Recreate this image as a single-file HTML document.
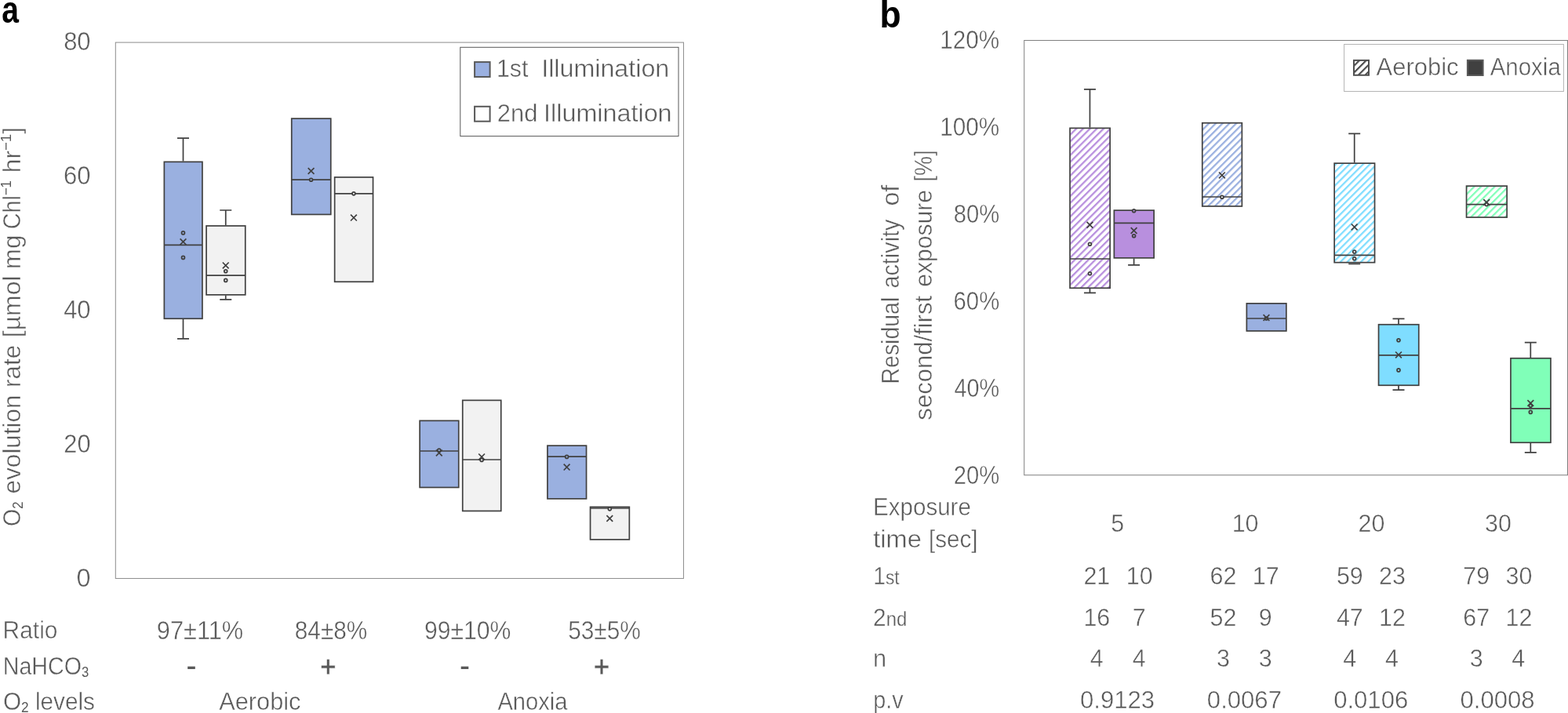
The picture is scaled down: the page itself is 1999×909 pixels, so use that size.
<!DOCTYPE html>
<html lang="en"><head><meta charset="utf-8"><title>Figure</title>
<style>
html,body{margin:0;padding:0;background:#fff}
body{width:1999px;height:909px;overflow:hidden}
svg{display:block}
text{font-family:'Liberation Sans',Arial,sans-serif;fill:#595959;white-space:pre}
</style></head><body>

<svg width="1999" height="909" viewBox="0 0 1999 909">
<defs><pattern id="hp" patternUnits="userSpaceOnUse" width="6.152" height="12" patternTransform="translate(1371.20 163.40) rotate(45)"><rect width="6.152" height="12" fill="#fff"/><rect width="2.25" height="12" fill="#B88FDE"/></pattern><pattern id="hb" patternUnits="userSpaceOnUse" width="6.152" height="12" patternTransform="translate(1540.40 156.60) rotate(45)"><rect width="6.152" height="12" fill="#fff"/><rect width="2.25" height="12" fill="#9AB0E0"/></pattern><pattern id="hc" patternUnits="userSpaceOnUse" width="6.152" height="12" patternTransform="translate(1702.40 208.40) rotate(45)"><rect width="6.152" height="12" fill="#fff"/><rect width="2.25" height="12" fill="#7FDDFF"/></pattern><pattern id="hg" patternUnits="userSpaceOnUse" width="6.152" height="12" patternTransform="translate(1878.40 237.40) rotate(45)"><rect width="6.152" height="12" fill="#fff"/><rect width="2.25" height="12" fill="#80FFB8"/></pattern><pattern id="hk" patternUnits="userSpaceOnUse" width="6.152" height="12" patternTransform="translate(1733.46 83.86) rotate(45)"><rect width="6.152" height="12" fill="#fff"/><rect width="2.10" height="12" fill="#484848"/></pattern></defs>
<rect x="147.30" y="54.10" width="724.15" height="683.35" fill="none" stroke="#8c8c8c" stroke-width="1.00"/>
<rect x="1305.70" y="51.50" width="692.80" height="554.20" fill="none" stroke="#808080" stroke-width="1.00"/>
<rect x="586.80" y="60.30" width="278.20" height="113.30" fill="#fff" stroke="#595959" stroke-width="1"/><rect x="605.10" y="79.10" width="19.50" height="18.90" fill="#9AB0E0" stroke="#595959" stroke-width="2"/><rect x="605.10" y="135.80" width="19.50" height="18.90" fill="#fff" stroke="#595959" stroke-width="2"/>
<rect x="1713.60" y="56.50" width="279.80" height="60.00" fill="#fff" stroke="#b4b4b4" stroke-width="1"/><rect x="1726.00" y="76.90" width="19.00" height="18.90" fill="url(#hk)" stroke="#505050" stroke-width="2"/><rect x="1870.90" y="76.80" width="19.70" height="19.20" fill="#404040" stroke="#595959" stroke-width="2"/>
<g stroke="#404040" stroke-width="1.70" fill="none"><path d="M233.50 205.60V176.20M226.00 176.20H241.00M233.50 407.00V431.90M226.00 431.90H241.00"/><rect x="209.35" y="206.35" width="48.60" height="199.90" fill="#9AB0E0"/><path d="M209.35 312.40H257.95"/><circle cx="233.50" cy="296.90" r="1.95" fill="#9AB0E0" stroke-width="1.75"/><circle cx="233.50" cy="328.40" r="1.95" fill="#9AB0E0" stroke-width="1.75"/><path d="M229.60 304.30L237.40 312.10M229.60 312.10L237.40 304.30"/></g>
<g stroke="#404040" stroke-width="1.70" fill="none"><path d="M287.75 287.20V268.00M280.25 268.00H295.25M287.75 376.60V381.90M280.25 381.90H295.25"/><rect x="263.05" y="287.95" width="49.70" height="87.90" fill="#F2F2F2"/><path d="M263.05 351.20H312.75"/><circle cx="287.75" cy="345.80" r="1.95" fill="#F2F2F2" stroke-width="1.75"/><circle cx="287.75" cy="357.40" r="1.95" fill="#F2F2F2" stroke-width="1.75"/><path d="M283.85 334.50L291.65 342.30M283.85 342.30L291.65 334.50"/></g>
<g stroke="#404040" stroke-width="1.70" fill="none"><rect x="371.75" y="151.15" width="50.00" height="122.30" fill="#9AB0E0"/><path d="M371.75 229.20H421.75"/><circle cx="396.60" cy="229.20" r="1.95" fill="#9AB0E0" stroke-width="1.75"/><path d="M392.70 214.10L400.50 221.90M392.70 221.90L400.50 214.10"/></g>
<g stroke="#404040" stroke-width="1.70" fill="none"><rect x="426.65" y="225.95" width="48.90" height="133.30" fill="#F2F2F2"/><path d="M426.65 246.80H475.55"/><circle cx="450.95" cy="246.80" r="1.95" fill="#F2F2F2" stroke-width="1.75"/><path d="M447.05 273.70L454.85 281.50M447.05 281.50L454.85 273.70"/></g>
<g stroke="#404040" stroke-width="1.70" fill="none"><rect x="535.15" y="536.35" width="49.60" height="85.10" fill="#9AB0E0"/><path d="M535.15 575.00H584.75"/><circle cx="559.80" cy="574.00" r="1.95" fill="#9AB0E0" stroke-width="1.75"/><path d="M555.90 573.50L563.70 581.30M555.90 581.30L563.70 573.50"/></g>
<g stroke="#404040" stroke-width="1.70" fill="none"><rect x="589.75" y="510.35" width="49.00" height="141.10" fill="#F2F2F2"/><path d="M589.75 586.00H638.75"/><circle cx="614.10" cy="586.40" r="1.95" fill="#F2F2F2" stroke-width="1.75"/><path d="M610.20 578.50L618.00 586.30M610.20 586.30L618.00 578.50"/></g>
<g stroke="#404040" stroke-width="1.70" fill="none"><rect x="697.95" y="568.15" width="49.60" height="67.70" fill="#9AB0E0"/><path d="M697.95 582.20H747.55"/><circle cx="722.60" cy="582.40" r="1.95" fill="#9AB0E0" stroke-width="1.75"/><path d="M718.70 591.70L726.50 599.50M718.70 599.50L726.50 591.70"/></g>
<g stroke="#404040" stroke-width="1.70" fill="none"><rect x="752.55" y="646.35" width="49.80" height="41.50" fill="#F2F2F2"/><path d="M752.55 648.00H802.35"/><circle cx="777.30" cy="648.80" r="1.95" fill="#F2F2F2" stroke-width="1.75"/><path d="M773.40 657.10L781.20 664.90M773.40 664.90L781.20 657.10"/></g>
<g stroke="#404040" stroke-width="1.70" fill="none"><path d="M1389.45 162.60V113.90M1381.95 113.90H1396.95M1389.45 368.00V373.30M1381.95 373.30H1396.95"/><rect x="1364.05" y="163.35" width="51.10" height="203.90" fill="url(#hp)"/><path d="M1364.05 330.00H1415.15"/><circle cx="1389.45" cy="311.20" r="1.95" fill="#fff" stroke-width="1.75"/><circle cx="1389.45" cy="348.80" r="1.95" fill="#fff" stroke-width="1.75"/><path d="M1385.55 282.90L1393.35 290.70M1385.55 290.70L1393.35 282.90"/></g>
<g stroke="#404040" stroke-width="1.70" fill="none"><path d="M1445.60 329.60V337.90M1438.10 337.90H1453.10"/><rect x="1420.35" y="268.15" width="50.80" height="60.70" fill="#B88FDE"/><path d="M1420.35 284.40H1471.15"/><circle cx="1445.60" cy="268.80" r="1.95" fill="#B88FDE" stroke-width="1.75"/><circle cx="1445.60" cy="300.80" r="1.95" fill="#B88FDE" stroke-width="1.75"/><path d="M1441.70 290.10L1449.50 297.90M1441.70 297.90L1449.50 290.10"/></g>
<g stroke="#404040" stroke-width="1.70" fill="none"><rect x="1532.75" y="156.75" width="50.60" height="106.20" fill="url(#hb)"/><path d="M1532.75 251.00H1583.35"/><circle cx="1557.90" cy="251.20" r="1.95" fill="#fff" stroke-width="1.75"/><path d="M1554.00 219.50L1561.80 227.30M1554.00 227.30L1561.80 219.50"/></g>
<g stroke="#404040" stroke-width="1.70" fill="none"><rect x="1589.35" y="386.85" width="50.50" height="35.10" fill="#9AB0E0"/><path d="M1589.35 406.00H1639.85"/><circle cx="1614.45" cy="406.00" r="1.95" fill="#9AB0E0" stroke-width="1.75"/><path d="M1610.55 401.20L1618.35 409.00M1610.55 409.00L1618.35 401.20"/></g>
<g stroke="#404040" stroke-width="1.70" fill="none"><path d="M1726.70 207.40V170.40M1719.20 170.40H1734.20M1726.70 335.40V336.30M1719.20 336.30H1734.20"/><rect x="1701.15" y="208.15" width="51.40" height="126.50" fill="url(#hc)"/><path d="M1701.15 325.40H1752.55"/><circle cx="1726.70" cy="321.00" r="1.95" fill="#fff" stroke-width="1.75"/><circle cx="1726.70" cy="329.70" r="1.95" fill="#fff" stroke-width="1.75"/><path d="M1722.80 285.50L1730.60 293.30M1722.80 293.30L1730.60 285.50"/></g>
<g stroke="#404040" stroke-width="1.70" fill="none"><path d="M1783.00 413.00V406.40M1775.50 406.40H1790.50M1783.00 492.00V497.10M1775.50 497.10H1790.50"/><rect x="1757.55" y="413.75" width="51.20" height="77.50" fill="#7FDDFF"/><path d="M1757.55 452.90H1808.75"/><circle cx="1783.00" cy="433.80" r="1.95" fill="#7FDDFF" stroke-width="1.75"/><circle cx="1783.00" cy="471.90" r="1.95" fill="#7FDDFF" stroke-width="1.75"/><path d="M1779.10 448.50L1786.90 456.30M1779.10 456.30L1786.90 448.50"/></g>
<g stroke="#404040" stroke-width="1.70" fill="none"><rect x="1869.55" y="237.15" width="51.60" height="39.90" fill="url(#hg)"/><path d="M1869.55 260.70H1921.15"/><circle cx="1895.20" cy="260.60" r="1.95" fill="#fff" stroke-width="1.75"/><path d="M1891.30 254.10L1899.10 261.90M1891.30 261.90L1899.10 254.10"/></g>
<g stroke="#404040" stroke-width="1.70" fill="none"><path d="M1951.30 456.00V436.60M1943.80 436.60H1958.80M1951.30 565.00V576.90M1943.80 576.90H1958.80"/><rect x="1925.95" y="456.75" width="51.00" height="107.50" fill="#80FFB8"/><path d="M1925.95 520.80H1976.95"/><circle cx="1951.30" cy="517.20" r="1.95" fill="#80FFB8" stroke-width="1.75"/><circle cx="1951.30" cy="525.40" r="1.95" fill="#80FFB8" stroke-width="1.75"/><path d="M1947.40 510.10L1955.20 517.90M1947.40 517.90L1955.20 510.10"/></g>
<text transform="translate(2.21 29.20) scale(0.8142 1.0000)" font-size="48.00" font-weight="700" style="fill:#000">a</text>
<text transform="translate(81.14 64.30) scale(0.9304 1.0000)" font-size="33.30" stroke="#fff" stroke-width="0.45">80</text>
<text transform="translate(81.00 235.10) scale(0.9344 1.0000)" font-size="33.30" stroke="#fff" stroke-width="0.45">60</text>
<text transform="translate(81.13 406.00) scale(0.9306 1.0000)" font-size="33.30" stroke="#fff" stroke-width="0.45">40</text>
<text transform="translate(81.37 576.90) scale(0.9240 1.0000)" font-size="33.30" stroke="#fff" stroke-width="0.45">20</text>
<text transform="translate(97.48 747.80) scale(0.9750 1.0000)" font-size="33.30" stroke="#fff" stroke-width="0.45">0</text>
<text transform="translate(26.00 670.93) rotate(-90) scale(0.9098 1.0000)" font-size="31.40" stroke="#fff" stroke-width="0.45">O<tspan font-size="0.58em" dy="0.19em" stroke="none">2</tspan></text>
<text transform="translate(26.00 629.38) rotate(-90) scale(1.0027 1.0000)" font-size="31.40" stroke="#fff" stroke-width="0.45">evolution</text>
<text transform="translate(26.00 493.97) rotate(-90) scale(0.9991 1.0000)" font-size="31.40" stroke="#fff" stroke-width="0.45">rate</text>
<text transform="translate(26.00 430.15) rotate(-90) scale(1.0167 1.0000)" font-size="31.40" stroke="#fff" stroke-width="0.45">[µmol</text>
<text transform="translate(26.00 342.88) rotate(-90) scale(0.9874 1.0000)" font-size="31.40" stroke="#fff" stroke-width="0.45">mg</text>
<text transform="translate(26.00 292.19) rotate(-90) scale(0.9140 1.0000)" font-size="31.40" stroke="#fff" stroke-width="0.45">Chl<tspan font-size="0.58em" dy="-0.66em" stroke="none">−1</tspan></text>
<text transform="translate(26.00 220.27) rotate(-90) scale(1.0156 1.0000)" font-size="31.40" stroke="#fff" stroke-width="0.45">hr<tspan font-size="0.58em" dy="-0.66em" stroke="none">−1</tspan><tspan dy="0.383em">]</tspan></text>
<text transform="translate(632.97 97.80) scale(0.9738 1.0000)" font-size="31.20" stroke="#fff" stroke-width="0.45">1st</text>
<text transform="translate(690.17 97.80) scale(1.0340 1.0000)" font-size="31.20" stroke="#fff" stroke-width="0.45">Illumination</text>
<text transform="translate(633.83 154.70) scale(0.9906 1.0000)" font-size="31.20" stroke="#fff" stroke-width="0.45">2nd</text>
<text transform="translate(693.06 154.70) scale(1.0366 1.0000)" font-size="31.20" stroke="#fff" stroke-width="0.45">Illumination</text>
<text transform="translate(3.60 814.40) scale(0.9776 1.0000)" font-size="30.60" stroke="#fff" stroke-width="0.45">Ratio</text>
<text transform="translate(3.69 859.90) scale(0.9374 1.0000)" font-size="30.60" stroke="#fff" stroke-width="0.45">NaHCO<tspan font-size="0.58em" dy="0.19em" stroke="none">3</tspan></text>
<text transform="translate(3.90 905.10) scale(0.9726 1.0000)" font-size="30.60" stroke="#fff" stroke-width="0.45">O<tspan font-size="0.58em" dy="0.19em" stroke="none">2</tspan><tspan dy="-0.11em"> levels</tspan></text>
<text transform="translate(199.80 814.80) scale(0.9327 1.0000)" font-size="33.00" stroke="#fff" stroke-width="0.45">97±11%</text>
<text transform="translate(375.79 814.80) scale(0.9028 1.0000)" font-size="33.00" stroke="#fff" stroke-width="0.45">84±8%</text>
<text transform="translate(540.93 814.80) scale(0.9144 1.0000)" font-size="33.00" stroke="#fff" stroke-width="0.45">99±10%</text>
<text transform="translate(724.19 814.80) scale(0.9037 1.0000)" font-size="33.00" stroke="#fff" stroke-width="0.45">53±5%</text>
<text transform="translate(279.27 905.10) scale(0.9913 1.0000)" font-size="31.00" stroke="#fff" stroke-width="0.45">Aerobic</text>
<text transform="translate(634.38 905.10) scale(0.9413 1.0000)" font-size="31.00" stroke="#fff" stroke-width="0.45">Anoxia</text>
<text transform="translate(1121.57 34.50) scale(0.9285 1.0000)" font-size="48.00" font-weight="700" style="fill:#000">b</text>
<text transform="translate(1198.36 61.50) scale(0.9134 1.0000)" font-size="32.50" stroke="#fff" stroke-width="0.45">120%</text>
<text transform="translate(1198.36 172.60) scale(0.9134 1.0000)" font-size="32.50" stroke="#fff" stroke-width="0.45">100%</text>
<text transform="translate(1215.80 283.70) scale(0.8979 1.0000)" font-size="32.50" stroke="#fff" stroke-width="0.45">80%</text>
<text transform="translate(1215.55 394.80) scale(0.9018 1.0000)" font-size="32.50" stroke="#fff" stroke-width="0.45">60%</text>
<text transform="translate(1216.46 505.90) scale(0.8877 1.0000)" font-size="32.50" stroke="#fff" stroke-width="0.45">40%</text>
<text transform="translate(1215.72 617.00) scale(0.8991 1.0000)" font-size="32.50" stroke="#fff" stroke-width="0.45">20%</text>
<text transform="translate(1146.00 489.47) rotate(-90) scale(0.9062 1.0000)" font-size="31.40" stroke="#fff" stroke-width="0.45">Residual</text>
<text transform="translate(1146.00 367.59) rotate(-90) scale(0.9178 1.0000)" font-size="31.40" stroke="#fff" stroke-width="0.45">activity</text>
<text transform="translate(1146.00 262.59) rotate(-90) scale(1.0262 1.0000)" font-size="31.40" stroke="#fff" stroke-width="0.45">of</text>
<text transform="translate(1187.90 535.64) rotate(-90) scale(0.9891 1.0000)" font-size="31.40" stroke="#fff" stroke-width="0.45">second/first</text>
<text transform="translate(1187.90 365.83) rotate(-90) scale(0.9594 1.0000)" font-size="31.40" stroke="#fff" stroke-width="0.45">exposure</text>
<text transform="translate(1187.90 231.69) rotate(-90) scale(0.8940 1.0000)" font-size="31.40" stroke="#fff" stroke-width="0.45">[%]</text>
<text transform="translate(1754.57 95.70) scale(0.9895 1.0000)" font-size="31.30" stroke="#fff" stroke-width="0.45">Aerobic</text>
<text transform="translate(1899.68 95.70) scale(0.9421 1.0000)" font-size="31.30" stroke="#fff" stroke-width="0.45">Anoxia</text>
<text transform="translate(1113.04 657.10) scale(0.9477 1.0000)" font-size="31.20" stroke="#fff" stroke-width="0.45">Exposure</text>
<text transform="translate(1113.32 697.80) scale(1.0449 1.0000)" font-size="31.20" stroke="#fff" stroke-width="0.45">time</text>
<text transform="translate(1184.01 697.80) scale(0.9474 1.0000)" font-size="31.20" stroke="#fff" stroke-width="0.45">[sec]</text>
<text transform="translate(1113.23 745.30) scale(0.8927 1.0000)" font-size="31.80" stroke="#fff" stroke-width="0.45">1<tspan font-size="0.8em" stroke-width="0.3">st</tspan></text>
<text transform="translate(1113.08 797.50) scale(0.9420 1.0000)" font-size="31.80" stroke="#fff" stroke-width="0.45">2<tspan font-size="0.8em" stroke-width="0.3">nd</tspan></text>
<text transform="translate(1112.94 849.90) scale(0.9868 1.0000)" font-size="31.20" stroke="#fff" stroke-width="0.45">n</text>
<text transform="translate(1113.16 902.50) scale(0.9235 1.0000)" font-size="31.20" stroke="#fff" stroke-width="0.45">p.v</text>
<text transform="translate(1424.80 677.70) scale(0.9570 1.0000)" font-size="31.80" stroke="#fff" stroke-width="0.45" text-anchor="middle">5</text>
<text transform="translate(1587.60 677.70) scale(0.9570 1.0000)" font-size="31.80" stroke="#fff" stroke-width="0.45" text-anchor="middle">10</text>
<text transform="translate(1748.40 677.70) scale(0.9570 1.0000)" font-size="31.80" stroke="#fff" stroke-width="0.45" text-anchor="middle">20</text>
<text transform="translate(1909.90 677.70) scale(0.9570 1.0000)" font-size="31.80" stroke="#fff" stroke-width="0.45" text-anchor="middle">30</text>
<text transform="translate(1398.30 745.20) scale(0.9570 1.0000)" font-size="31.80" stroke="#fff" stroke-width="0.45" text-anchor="middle">21</text>
<text transform="translate(1452.70 745.20) scale(0.9570 1.0000)" font-size="31.80" stroke="#fff" stroke-width="0.45" text-anchor="middle">10</text>
<text transform="translate(1559.40 745.20) scale(0.9570 1.0000)" font-size="31.80" stroke="#fff" stroke-width="0.45" text-anchor="middle">62</text>
<text transform="translate(1613.70 745.20) scale(0.9570 1.0000)" font-size="31.80" stroke="#fff" stroke-width="0.45" text-anchor="middle">17</text>
<text transform="translate(1720.80 745.20) scale(0.9570 1.0000)" font-size="31.80" stroke="#fff" stroke-width="0.45" text-anchor="middle">59</text>
<text transform="translate(1775.00 745.20) scale(0.9570 1.0000)" font-size="31.80" stroke="#fff" stroke-width="0.45" text-anchor="middle">23</text>
<text transform="translate(1882.20 745.20) scale(0.9570 1.0000)" font-size="31.80" stroke="#fff" stroke-width="0.45" text-anchor="middle">79</text>
<text transform="translate(1936.40 745.20) scale(0.9570 1.0000)" font-size="31.80" stroke="#fff" stroke-width="0.45" text-anchor="middle">30</text>
<text transform="translate(1398.30 797.60) scale(0.9570 1.0000)" font-size="31.80" stroke="#fff" stroke-width="0.45" text-anchor="middle">16</text>
<text transform="translate(1452.10 797.60) scale(0.9570 1.0000)" font-size="31.80" stroke="#fff" stroke-width="0.45" text-anchor="middle">7</text>
<text transform="translate(1559.40 797.60) scale(0.9570 1.0000)" font-size="31.80" stroke="#fff" stroke-width="0.45" text-anchor="middle">52</text>
<text transform="translate(1613.10 797.60) scale(0.9570 1.0000)" font-size="31.80" stroke="#fff" stroke-width="0.45" text-anchor="middle">9</text>
<text transform="translate(1720.80 797.60) scale(0.9570 1.0000)" font-size="31.80" stroke="#fff" stroke-width="0.45" text-anchor="middle">47</text>
<text transform="translate(1775.00 797.60) scale(0.9570 1.0000)" font-size="31.80" stroke="#fff" stroke-width="0.45" text-anchor="middle">12</text>
<text transform="translate(1882.20 797.60) scale(0.9570 1.0000)" font-size="31.80" stroke="#fff" stroke-width="0.45" text-anchor="middle">67</text>
<text transform="translate(1936.40 797.60) scale(0.9570 1.0000)" font-size="31.80" stroke="#fff" stroke-width="0.45" text-anchor="middle">12</text>
<text transform="translate(1398.30 850.20) scale(0.9570 1.0000)" font-size="31.80" stroke="#fff" stroke-width="0.45" text-anchor="middle">4</text>
<text transform="translate(1452.10 850.20) scale(0.9570 1.0000)" font-size="31.80" stroke="#fff" stroke-width="0.45" text-anchor="middle">4</text>
<text transform="translate(1559.40 850.20) scale(0.9570 1.0000)" font-size="31.80" stroke="#fff" stroke-width="0.45" text-anchor="middle">3</text>
<text transform="translate(1613.10 850.20) scale(0.9570 1.0000)" font-size="31.80" stroke="#fff" stroke-width="0.45" text-anchor="middle">3</text>
<text transform="translate(1720.80 850.20) scale(0.9570 1.0000)" font-size="31.80" stroke="#fff" stroke-width="0.45" text-anchor="middle">4</text>
<text transform="translate(1774.40 850.20) scale(0.9570 1.0000)" font-size="31.80" stroke="#fff" stroke-width="0.45" text-anchor="middle">4</text>
<text transform="translate(1882.20 850.20) scale(0.9570 1.0000)" font-size="31.80" stroke="#fff" stroke-width="0.45" text-anchor="middle">3</text>
<text transform="translate(1935.80 850.20) scale(0.9570 1.0000)" font-size="31.80" stroke="#fff" stroke-width="0.45" text-anchor="middle">4</text>
<text transform="translate(1424.50 902.60) scale(0.9780 1.0000)" font-size="31.80" stroke="#fff" stroke-width="0.45" text-anchor="middle">0.9123</text>
<text transform="translate(1586.40 902.60) scale(0.9780 1.0000)" font-size="31.80" stroke="#fff" stroke-width="0.45" text-anchor="middle">0.0067</text>
<text transform="translate(1747.70 902.60) scale(0.9780 1.0000)" font-size="31.80" stroke="#fff" stroke-width="0.45" text-anchor="middle">0.0106</text>
<text transform="translate(1909.00 902.60) scale(0.9780 1.0000)" font-size="31.80" stroke="#fff" stroke-width="0.45" text-anchor="middle">0.0008</text>
<text transform="translate(244.02 859.23) scale(1.1080 0.8250)" font-size="34.00" font-weight="700" text-anchor="middle">-</text>
<text transform="translate(418.16 863.05) scale(0.9992 1.0800)" font-size="36.00" font-weight="700" stroke="#fff" stroke-width="0.80" text-anchor="middle">+</text>
<text transform="translate(592.52 859.23) scale(1.1080 0.8250)" font-size="34.00" font-weight="700" text-anchor="middle">-</text>
<text transform="translate(766.96 863.05) scale(0.9992 1.0800)" font-size="36.00" font-weight="700" stroke="#fff" stroke-width="0.80" text-anchor="middle">+</text>
</svg>
</body></html>
